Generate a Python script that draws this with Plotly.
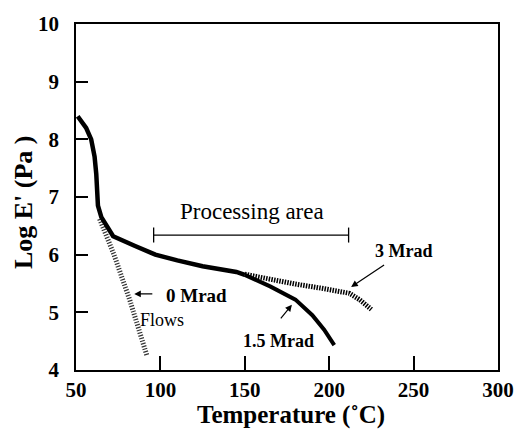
import plotly.graph_objects as go

# Main curve (common to all doses up to ~150 C)
main_T = [51, 56, 59, 61, 62, 62.5, 63, 65, 72, 85, 97, 110, 125, 145, 150]
main_E = [8.4, 8.2, 8.0, 7.7, 7.4, 7.0, 6.85, 6.65, 6.32, 6.15, 6.0, 5.9, 5.8, 5.7, 5.65]

# 1.5 Mrad continuation
m15_T = [150, 165, 180, 190, 197, 203]
m15_E = [5.65, 5.45, 5.22, 4.95, 4.7, 4.43]

# 3 Mrad continuation (hatched)
m3_T = [150, 165, 180, 195, 212, 218, 225]
m3_E = [5.66, 5.57, 5.49, 5.42, 5.33, 5.22, 5.05]

# 0 Mrad (flows, hatched)
m0_T = [64, 72.5, 82, 92]
m0_E = [6.62, 6.0, 5.2, 4.25]

x_ticks = [50, 100, 150, 200, 250, 300]
y_ticks = [4, 5, 6, 7, 8, 9, 10]

FONT = "Liberation Serif"

fig = go.Figure()
fig.add_trace(go.Scatter(x=m0_T, y=m0_E, mode="lines",
                         line=dict(color="#333", width=5, dash="1.2px,1.6px")))
fig.add_trace(go.Scatter(x=m3_T, y=m3_E, mode="lines",
                         line=dict(color="black", width=5, dash="1.5px,1.2px")))
fig.add_trace(go.Scatter(x=main_T, y=main_E, mode="lines",
                         line=dict(color="black", width=4.5)))
fig.add_trace(go.Scatter(x=m15_T, y=m15_E, mode="lines",
                         line=dict(color="black", width=4)))

# Processing area bracket
pa_x0, pa_x1, pa_y = 96, 211.5, 6.34
shapes = [
    dict(type="line", xref="x", yref="y", x0=pa_x0, x1=pa_x1, y0=pa_y, y1=pa_y,
         line=dict(color="black", width=1.3)),
    dict(type="line", xref="x", yref="y", x0=pa_x0, x1=pa_x0, y0=pa_y - 0.13, y1=pa_y + 0.13,
         line=dict(color="black", width=1.3)),
    dict(type="line", xref="x", yref="y", x0=pa_x1, x1=pa_x1, y0=pa_y - 0.13, y1=pa_y + 0.13,
         line=dict(color="black", width=1.3)),
]

annotations = [
    dict(x=154, y=6.74, text="Processing area", showarrow=False,
         font=dict(family=FONT, size=23, color="black")),
    dict(x=244.5, y=6.07, text="<b>3 Mrad</b>", showarrow=False,
         font=dict(family=FONT, size=18, color="black")),
    dict(x=121.4, y=5.3, text="<b>0 Mrad</b>", showarrow=False,
         font=dict(family=FONT, size=19, color="black")),
    dict(x=101, y=4.86, text="Flows", showarrow=False,
         font=dict(family=FONT, size=18, color="black")),
    dict(x=170.2, y=4.5, text="<b>1.5 Mrad</b>", showarrow=False,
         font=dict(family=FONT, size=18, color="black")),
    # arrows
    dict(x=213, y=5.44, ax=233.4, ay=5.84, xref="x", yref="y", axref="x", ayref="y",
         text="", showarrow=True, arrowhead=2, arrowsize=1.1, arrowwidth=1.2, arrowcolor="black"),
    dict(x=84.5, y=5.32, ax=96.1, ay=5.32, xref="x", yref="y", axref="x", ayref="y",
         text="", showarrow=True, arrowhead=2, arrowsize=1.1, arrowwidth=1.2, arrowcolor="black"),
    dict(x=177.9, y=5.13, ax=170.6, ay=4.87, xref="x", yref="y", axref="x", ayref="y",
         text="", showarrow=True, arrowhead=2, arrowsize=1.1, arrowwidth=1.2, arrowcolor="black"),
    # axis titles (pixel positions, converted below)
    dict(x=294, y=416, xref="paper", yref="paper", xanchor="center", yanchor="middle",
         text="<b>Temperature (˚C)</b>",
         showarrow=False, font=dict(family=FONT, size=25, color="black")),
    dict(x=23, y=197, xref="paper", yref="paper", xanchor="center", yanchor="middle",
         text="<b>Log E' (Pa )</b>", textangle=-90,
         showarrow=False, font=dict(family=FONT, size=26, color="black")),
]

W, H = 526, 430
L, R, T, B = 76, 22, 13, 60
pw, ph = W - L - R, H - T - B
for a in annotations[-2:]:
    a["x"] = (a["x"] - L) / pw
    a["y"] = (H - B - a["y"]) / ph

fig.update_layout(
    width=W, height=H,
    margin=dict(l=L, r=R, t=T, b=B),
    paper_bgcolor="white", plot_bgcolor="white",
    showlegend=False,
    shapes=shapes, annotations=annotations,
    font=dict(family=FONT, color="black"),
)
fig.update_xaxes(range=[50, 300], tickvals=x_ticks,
                 ticktext=[f"<b>{v}</b>" for v in x_ticks],
                 ticks="inside", ticklen=14, tickwidth=1.5,
                 tickcolor="black", showgrid=False, zeroline=False, showline=True,
                 linecolor="black", linewidth=1.5, mirror=True,
                 tickfont=dict(family=FONT, size=21, color="black"),
                 ticklabelstandoff=0)
fig.update_yaxes(range=[4, 10], tickvals=y_ticks,
                 ticktext=[f"<b>{v}</b>" for v in y_ticks],
                 ticks="inside", ticklen=12, tickwidth=1.5,
                 tickcolor="black", showgrid=False, zeroline=False, showline=True,
                 linecolor="black", linewidth=1.5, mirror=True,
                 tickfont=dict(family=FONT, size=21, color="black"),
                 ticklabelstandoff=11)

fig.write_html("out.html")
